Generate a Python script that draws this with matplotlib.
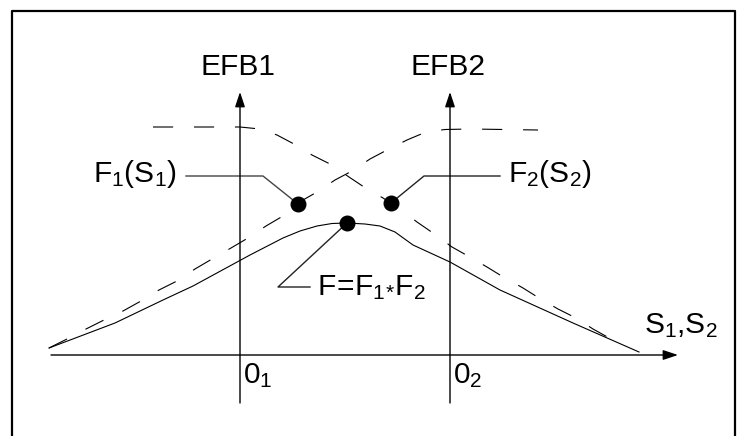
import matplotlib
matplotlib.use("Agg")
import matplotlib.pyplot as plt

plt.rcParams['font.family'] = ['Liberation Sans', 'DejaVu Sans']
plt.rcParams['mathtext.fontset'] = 'custom'
plt.rcParams['mathtext.rm'] = 'Liberation Sans'
plt.rcParams['mathtext.it'] = 'Liberation Sans'
plt.rcParams['lines.scale_dashes'] = False

# curves, in picture units (x right, y down)
f1_x = [49, 67, 86, 104, 123, 141, 159, 177, 195, 212, 231, 248, 266, 283,
        303, 317, 335, 352, 370, 387, 407, 426, 445, 470, 538]
f1_y = [348, 339, 329, 320, 311, 301, 290, 281, 269, 259, 248, 238, 226, 216,
        200, 192, 180, 171, 159, 150, 140, 132, 129.5, 129, 130]

f2_x = [153, 240, 260, 277, 294, 312, 330, 349, 364, 383, 400, 417, 433, 452,
        468, 487, 500, 523, 539, 558, 576, 593, 611, 622]
f2_y = [127, 127, 129, 135, 144, 155, 164, 177, 187, 198, 209, 222, 233, 247,
        256, 267, 275, 288, 298, 309, 318, 329, 339, 345]

f_x = [49, 115, 163, 193, 250, 283, 300, 317, 332, 347, 365, 380, 395, 413,
       450, 500, 573, 639]
f_y = [348, 323, 300, 286, 255, 238, 231, 226, 223.5, 223, 224, 226, 232, 245,
       262, 290, 323, 352]

# marked points: F1, F2, F
dot_x = [298, 391, 347]
dot_y = [204, 203, 223]

fig = plt.figure(figsize=(7.46, 4.36), dpi=100)
ax = fig.add_axes([0, 0, 1, 1])
ax.set_xlim(0, 746)
ax.set_ylim(436, 0)
ax.axis('off')

# frame
ax.plot([12, 12, 735, 735], [436, 11, 11, 436], color='black', lw=1.6)

# axes with arrows
arr = dict(arrowstyle='-|>,head_length=0.9,head_width=0.3', color='black', lw=1.0,
           shrinkA=0, shrinkB=0)
ax.annotate('', xy=(678, 355), xytext=(51, 355), arrowprops=arr)
ax.annotate('', xy=(240, 92), xytext=(240, 403), arrowprops=arr)
ax.annotate('', xy=(450, 92), xytext=(450, 403), arrowprops=arr)

# curves
ax.plot(f1_x, f1_y, color='black', lw=0.8, dashes=(14.5, 15))
ax.plot(f2_x, f2_y, color='black', lw=0.8, dashes=(14.5, 15))
ax.plot(f_x, f_y, color='black', lw=0.8)
ax.scatter(dot_x, dot_y, s=110, color='black', zorder=5)

# leader lines
ax.plot([186, 263, 298], [176, 176, 204], color='#444444', lw=1.0)
ax.plot([391, 424, 500], [203, 176, 176], color='#222222', lw=1.0)
ax.plot([347, 278, 310], [223, 287, 287], color='#222222', lw=1.0)

fs = 21.5
ax.text(238, 75, 'EFB1', fontsize=fs, ha='center', va='baseline')
ax.text(448, 75, 'EFB2', fontsize=fs, ha='center', va='baseline')
ax.text(93, 182, r'$\mathrm{F_1(S_1)}$', fontsize=fs, ha='left', va='baseline')
ax.text(508, 182, r'$\mathrm{F_2(S_2)}$', fontsize=fs, ha='left', va='baseline')
ax.text(317, 295, r'$\mathrm{F}\!=\!\mathrm{F_{1}{}_{*}F_2}$', fontsize=fs,
        ha='left', va='baseline')
ax.text(644, 333, r'$\mathrm{S_1{,}S_2}$', fontsize=fs, ha='left', va='baseline')
ax.text(243, 383, r'$\mathrm{0_1}$', fontsize=fs, ha='left', va='baseline')
ax.text(453, 383, r'$\mathrm{0_2}$', fontsize=fs, ha='left', va='baseline')

fig.savefig('out.png', dpi=100)
